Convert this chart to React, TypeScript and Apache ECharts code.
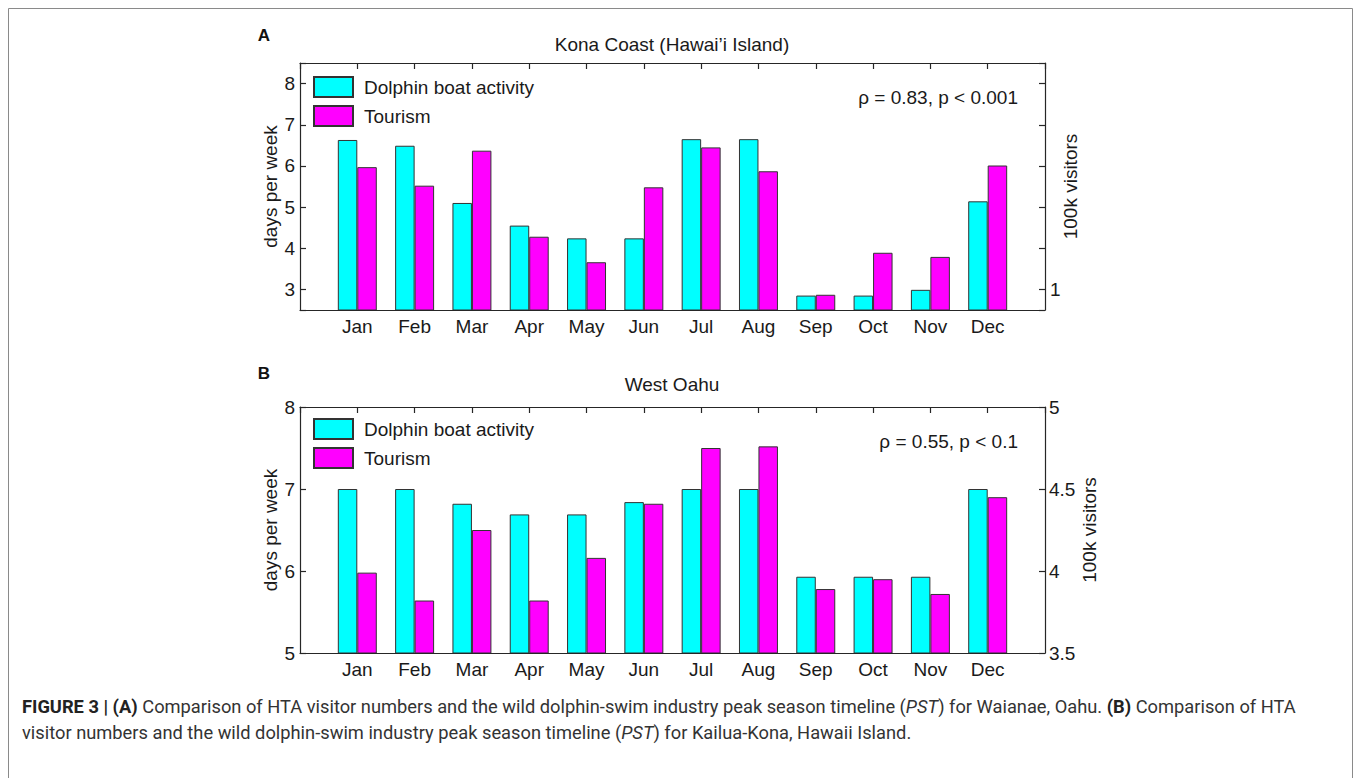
import React, { useEffect, useRef } from "react";
import * as echarts from "echarts";

const months = ["Jan", "Feb", "Mar", "Apr", "May", "Jun", "Jul", "Aug", "Sep", "Oct", "Nov", "Dec"];

// Panel A – Kona Coast (values in "days per week" axis units)
const konaDolphin = [6.63, 6.49, 5.1, 4.55, 4.24, 4.24, 6.65, 6.65, 2.85, 2.85, 2.99, 5.14];
const konaTourism = [5.97, 5.52, 6.37, 4.28, 3.66, 5.48, 6.45, 5.87, 2.87, 3.89, 3.79, 6.01];

// Panel B – West Oahu
const oahuDolphin = [7.0, 7.0, 6.82, 6.69, 6.69, 6.84, 7.0, 7.0, 5.93, 5.93, 5.93, 7.0];
// tourism in 100k visitors (right axis)
const oahuTourism = [3.99, 3.82, 4.25, 3.82, 4.08, 4.41, 4.75, 4.76, 3.89, 3.95, 3.86, 4.45];

const FONT = "'Liberation Sans', Arial, Helvetica, sans-serif";
const CAPFONT = "Roboto, 'Liberation Sans', sans-serif";
const TXT = "#1a1a1a";
const CYAN = "#00ffff";
const MAGENTA = "#ff00ff";
const FS = 19;

const axisCats = ["", ...months, ""];
const pad = (arr: number[]) => ["-", ...arr, "-"];

export default function App() {
  const ref = useRef<HTMLDivElement>(null);
  useEffect(() => {
    document.body.style.margin = "0";
    if (!ref.current) return;
    const chart = echarts.init(ref.current, null, { renderer: "svg" });

    const grids = [
      { left: 300, top: 63, width: 745, height: 247 },
      { left: 300, top: 407, width: 745, height: 246 },
    ];

    const lineStyle = { color: "#262626", width: 1.2 };
    const labelStyle = { fontSize: FS, color: TXT, fontFamily: FONT };

    const xAxes: any[] = [];
    [0, 1].forEach((g) => {
      xAxes.push({
        type: "category",
        gridIndex: g,
        position: "bottom",
        data: axisCats,
        boundaryGap: false,
        axisLine: { show: true, lineStyle },
        axisTick: { show: false },
        axisLabel: { ...labelStyle, margin: 7, interval: 0 },
        splitLine: { show: false },
        z: 5,
      });
      xAxes.push({
        type: "category",
        gridIndex: g,
        position: "top",
        data: axisCats,
        boundaryGap: false,
        axisLine: { show: true, lineStyle },
        axisTick: { show: true, inside: true, length: 6, lineStyle, interval: 0 },
        axisLabel: { show: false },
        splitLine: { show: false },
        z: 5,
      });
    });

    const nameStyle = { fontSize: FS, color: TXT, fontFamily: FONT };
    const yAxes: any[] = [
      {
        type: "value",
        gridIndex: 0,
        position: "left",
        min: 2.5,
        max: 8.5,
        splitNumber: 6,
        name: "days per week",
        nameLocation: "middle",
        nameGap: 20,
        nameMoveOverlap: false,
        nameTextStyle: nameStyle,
        axisLine: { show: true, lineStyle },
        axisTick: { show: true, inside: true, length: 6, lineStyle },
        axisLabel: {
          ...labelStyle,
          margin: 5,
          formatter: (v: number) => (Number.isInteger(v) ? String(v) : ""),
        },
        splitLine: { show: false },
        z: 5,
      },
      {
        type: "value",
        gridIndex: 0,
        position: "right",
        min: 2.5,
        max: 8.5,
        splitNumber: 6,
        name: "100k visitors",
        nameLocation: "middle",
        nameGap: 16,
        nameMoveOverlap: false,
        nameRotate: 90,
        nameTextStyle: nameStyle,
        axisLine: { show: true, lineStyle },
        axisTick: { show: true, inside: true, length: 6, lineStyle },
        axisLabel: {
          ...labelStyle,
          margin: 5,
          formatter: (v: number) => (v === 3 ? "1" : ""),
        },
        splitLine: { show: false },
        z: 5,
      },
      {
        type: "value",
        gridIndex: 1,
        position: "left",
        min: 5,
        max: 8,
        interval: 1,
        name: "days per week",
        nameLocation: "middle",
        nameGap: 20,
        nameMoveOverlap: false,
        nameTextStyle: nameStyle,
        axisLine: { show: true, lineStyle },
        axisTick: { show: true, inside: true, length: 6, lineStyle },
        axisLabel: { ...labelStyle, margin: 5 },
        splitLine: { show: false },
        z: 5,
      },
      {
        type: "value",
        gridIndex: 1,
        position: "right",
        min: 3.5,
        max: 5,
        interval: 0.5,
        name: "100k visitors",
        nameLocation: "middle",
        nameGap: 35,
        nameMoveOverlap: false,
        nameRotate: 90,
        nameTextStyle: nameStyle,
        axisLine: { show: true, lineStyle },
        axisTick: { show: true, inside: true, length: 6, lineStyle },
        axisLabel: { ...labelStyle, margin: 4 },
        splitLine: { show: false },
        z: 5,
      },
    ];

    const barBase = {
      type: "bar",
      barWidth: "34%",
      barGap: "0%",
      itemStyle: { borderColor: "#333", borderWidth: 1 },
    };

    const legendBase = {
      orient: "vertical",
      left: 313,
      itemWidth: 39,
      itemHeight: 20,
      itemGap: 7,
      icon: "rect",
      padding: 0,
      textStyle: { fontSize: FS, color: TXT, fontFamily: FONT, lineHeight: 20, padding: [0, 0, 0, 6] },
      data: ["Dolphin boat activity", "Tourism"],
    };

    const CFS = 18.3;
    const capStyle = {
      fontSize: CFS,
      fontFamily: CAPFONT,
      fill: "#333",
      rich: {
        b: { fontWeight: "bold", fontSize: CFS, fontFamily: CAPFONT, fill: "#222" },
        i: { fontStyle: "italic", fontSize: CFS, fontFamily: CAPFONT, fill: "#333" },
      },
    };

    const txt = (x: number, y: number, text: string, align: string, extra: any = {}) => ({
      type: "text",
      x,
      y,
      style: { text, fontSize: FS, fontFamily: FONT, fill: TXT, textAlign: align, textVerticalAlign: "middle", ...extra },
    });

    chart.setOption({
      animation: false,
      backgroundColor: "#ffffff",
      grid: grids,
      xAxis: xAxes,
      yAxis: yAxes,
      legend: [
        { ...legendBase, top: 76 },
        { ...legendBase, top: 418 },
      ],
      series: [
        { ...barBase, name: "Dolphin boat activity", xAxisIndex: 0, yAxisIndex: 0, data: pad(konaDolphin), itemStyle: { ...barBase.itemStyle, color: CYAN } },
        { ...barBase, name: "Tourism", xAxisIndex: 0, yAxisIndex: 0, data: pad(konaTourism), itemStyle: { ...barBase.itemStyle, color: MAGENTA } },
        { ...barBase, name: "Dolphin boat activity", xAxisIndex: 2, yAxisIndex: 2, data: pad(oahuDolphin), itemStyle: { ...barBase.itemStyle, color: CYAN } },
        { ...barBase, name: "Tourism", xAxisIndex: 2, yAxisIndex: 3, data: pad(oahuTourism), itemStyle: { ...barBase.itemStyle, color: MAGENTA } },
      ],
      graphic: [
        { type: "rect", shape: { x: 8.5, y: 8.5, width: 1344, height: 800 }, style: { fill: "none", stroke: "#8a8a8a", lineWidth: 1 }, silent: true },
        txt(264, 35, "A", "center", { fontSize: 17, fontWeight: "bold", fill: "#111" }),
        txt(264, 373, "B", "center", { fontSize: 17, fontWeight: "bold", fill: "#111" }),
        txt(672, 44, "Kona Coast (Hawai\u2019i Island)", "center"),
        txt(672, 384, "West Oahu", "center"),
        txt(1018, 97, "\u03c1 = 0.83, p < 0.001", "right"),
        txt(1018, 441, "\u03c1 = 0.55, p < 0.1", "right"),
        {
          type: "text",
          x: 22,
          y: 706,
          style: {
            ...capStyle,
            text: "{b|FIGURE 3 | (A)} Comparison of HTA visitor numbers and the wild dolphin-swim industry peak season timeline ({i|PST}) for Waianae, Oahu. {b|(B)} Comparison of HTA",
            textVerticalAlign: "middle",
          },
        },
        {
          type: "text",
          x: 22,
          y: 732,
          style: {
            ...capStyle,
            text: "visitor numbers and the wild dolphin-swim industry peak season timeline ({i|PST}) for Kailua-Kona, Hawaii Island.",
            textVerticalAlign: "middle",
          },
        },
      ],
    });
    return () => chart.dispose();
  }, []);
  return <div ref={ref} style={{ width: 1357, height: 778 }} />;
}
